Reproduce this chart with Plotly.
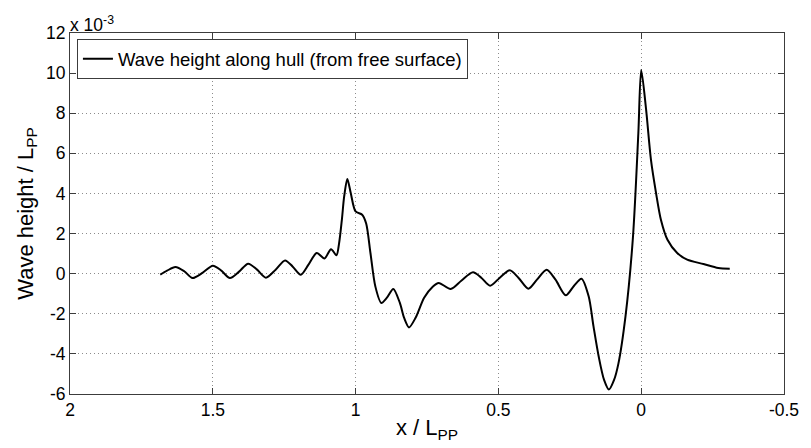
import plotly.graph_objects as go

# Longitudinal position along the hull, x / L_PP
x_over_lpp = [
    1.684, 1.660, 1.631, 1.600, 1.571, 1.535, 1.500, 1.470, 1.440, 1.408,
    1.376, 1.345, 1.314, 1.280, 1.247, 1.220, 1.192, 1.165, 1.136, 1.109,
    1.086, 1.067, 1.058, 1.048, 1.040, 1.029, 1.017, 1.000, 0.977, 0.963,
    0.948, 0.931, 0.910, 0.891, 0.868, 0.845, 0.830, 0.813, 0.790, 0.760,
    0.730, 0.709, 0.667, 0.630, 0.589, 0.560, 0.529, 0.495, 0.460, 0.430,
    0.395, 0.365, 0.331, 0.300, 0.264, 0.235, 0.209, 0.184, 0.167, 0.149,
    0.130, 0.113, 0.095, 0.080, 0.055, 0.029, 0.010, 0.000, -0.017, -0.034,
    -0.052, -0.069, -0.092, -0.126, -0.161, -0.218, -0.270, -0.310,
]

# Wave height / L_PP, in units of 1e-3
wave_height_e3 = [
    -0.05, 0.15, 0.33, 0.12, -0.22, 0.05, 0.40, 0.15, -0.22, 0.10,
    0.50, 0.20, -0.20, 0.20, 0.66, 0.35, -0.05, 0.45, 1.03, 0.76,
    1.22, 0.92, 1.50, 2.70, 3.85, 4.72, 4.02, 3.10, 2.94, 2.50,
    1.03, -0.63, -1.46, -1.21, -0.76, -1.46, -2.21, -2.68, -2.20, -1.20,
    -0.65, -0.46, -0.76, -0.35, 0.07, -0.20, -0.60, -0.20, 0.17, -0.20,
    -0.75, -0.30, 0.20, -0.30, -1.08, -0.60, -0.25, -1.13, -2.63, -4.12,
    -5.30, -5.78, -5.30, -4.50, -2.13, 1.80, 7.00, 10.15, 8.20, 5.70,
    4.02, 2.69, 1.69, 1.03, 0.70, 0.48, 0.28, 0.25,
]

x_tick_vals = [2, 1.5, 1, 0.5, 0, -0.5]
x_tick_text = ["2", "1.5", "1", "0.5", "0", "-0.5"]
y_tick_vals = [-6, -4, -2, 0, 2, 4, 6, 8, 10, 12]
y_tick_text = ["-6", "-4", "-2", "0", "2", "4", "6", "8", "10", "12"]

FONT = "Liberation Sans, Arial, sans-serif"
AXIS_COLOR = "#3c3c3c"

fig = go.Figure()
fig.add_trace(go.Scatter(
    x=x_over_lpp,
    y=wave_height_e3,
    mode="lines",
    line=dict(color="black", width=2, shape="spline", smoothing=0.8),
    name="Wave height along hull (from free surface)",
))

axis_common = dict(
    showline=True,
    linecolor=AXIS_COLOR,
    linewidth=1,
    mirror="ticks",
    ticks="inside",
    ticklen=6,
    tickcolor=AXIS_COLOR,
    showgrid=True,
    gridcolor="#8c8c8c",
    griddash="1px,3px",
    gridwidth=1,
    zeroline=False,
    tickfont=dict(family=FONT, size=17.5, color="black"),
)

fig.update_layout(
    width=811,
    height=448,
    margin=dict(l=70, r=16, t=33, b=54),
    paper_bgcolor="white",
    plot_bgcolor="white",
    font=dict(family=FONT, color="black"),
    xaxis=dict(
        range=[2, -0.5],
        tickvals=x_tick_vals,
        ticktext=x_tick_text,
        title=dict(text="x / L<sub>PP</sub>", font=dict(family=FONT, size=22), standoff=0),
        **axis_common,
    ),
    yaxis=dict(
        range=[-6, 12],
        tickvals=y_tick_vals,
        ticktext=y_tick_text,
        title=dict(text="Wave height / L<sub>PP</sub>", font=dict(family=FONT, size=22), standoff=6),
        **axis_common,
    ),
    showlegend=True,
    legend=dict(
        x=0.0097,
        y=0.983,
        xanchor="left",
        yanchor="top",
        bgcolor="white",
        bordercolor=AXIS_COLOR,
        borderwidth=1,
        font=dict(family=FONT, size=18.5, color="black"),
        itemwidth=30,
        tracegroupgap=0,
    ),
    annotations=[
        dict(
            text="x 10<sup>-3</sup>",
            xref="paper", yref="paper",
            x=0.0, y=1.0,
            xanchor="left", yanchor="bottom",
            showarrow=False,
            font=dict(family=FONT, size=17.5, color="black"),
            xshift=-2,
            yshift=-4,
        )
    ],
)

fig.write_html("out.html")
